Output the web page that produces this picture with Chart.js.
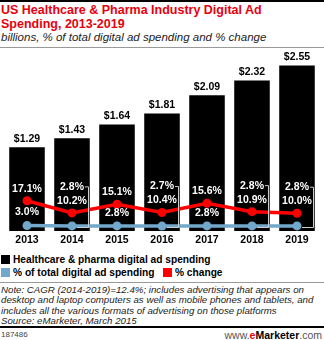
<!DOCTYPE html>
<html>
<head>
<meta charset="utf-8">
<script src="https://cdn.jsdelivr.net/npm/chart.js@4.4.1/dist/chart.umd.min.js"></script>
<style>
  body { margin: 0; width: 324px; height: 340px; background: #fff; overflow: hidden; position: relative; font-family: "Liberation Sans", Arial, sans-serif; }
  .abs { position: absolute; }
  #topRule { top: 0; left: 0; width: 324px; height: 2px; background: #000; }
  #title { top: 4px; left: 1px; font-weight: bold; font-size: 12.5px; line-height: 13.5px; color: #e8000d; }
  #subtitle { top: 31px; left: 1px; font-style: italic; font-size: 11.5px; line-height: 13px; color: #222; }
  #rule1 { top: 47px; left: 0; width: 324px; height: 1px; background: #999; }
  #chartBox { top: 50px; left: 0; width: 324px; height: 200px; }
  #legend { top: 253px; left: 1px; font-weight: bold; font-size: 10.2px; line-height: 13px; color: #000; }
  #legend .sw { display: inline-block; width: 9px; height: 9px; margin-right: 3px; vertical-align: -1px; }
  #rule2 { top: 282px; left: 0; width: 324px; height: 1px; background: #999; }
  #note { top: 285px; left: 1px; font-style: italic; font-size: 9.7px; line-height: 10.3px; color: #222; }
  #rule3 { top: 326px; left: 0; width: 324px; height: 2px; background: #000; }
  #chartId { top: 330px; left: 1px; font-size: 8px; color: #444; }
  #site { top: 329px; right: 2px; font-size: 10.5px; color: #555; }
</style>
</head>
<body>
<div id="topRule" class="abs"></div>
<div id="title" class="abs">US Healthcare &amp; Pharma Industry Digital Ad<br>Spending, 2013-2019</div>
<div id="subtitle" class="abs">billions, % of total digital ad spending and % change</div>
<div id="rule1" class="abs"></div>
<div id="chartBox" class="abs"><canvas id="adChart"></canvas></div>
<div id="legend" class="abs">
  <div><span class="sw" style="background:#000"></span>Healthcare &amp; pharma digital ad spending</div>
  <div><span class="sw" style="background:#71a8cc"></span>% of total digital ad spending&nbsp;&nbsp;&nbsp;<span class="sw" style="background:#f00"></span>% change</div>
</div>
<div id="rule2" class="abs"></div>
<div id="note" class="abs">Note: CAGR (2014-2019)=12.4%; includes advertising that appears on<br>desktop and laptop computers as well as mobile phones and tablets, and<br>includes all the various formats of advertising on those platforms<br>Source: eMarketer, March 2015</div>
<div id="rule3" class="abs"></div>
<div id="chartId" class="abs">187486</div>
<div id="site" class="abs">www.<b style="color:#e8000d">e</b><b style="color:#000">Marketer</b>.com</div>

<script>
// Chart data
const years = ['2013', '2014', '2015', '2016', '2017', '2018', '2019'];
const spending = [1.29, 1.43, 1.64, 1.81, 2.09, 2.32, 2.55];
const shareOfTotal = [3.0, 2.8, 2.8, 2.7, 2.8, 2.8, 2.8];
const pctChange = [17.1, 10.2, 15.1, 10.4, 15.6, 10.9, 10.0];

const RED = '#f00';
const BLUE = '#71a8cc';
const labelFont = 'bold 10.5px "Liberation Sans", Arial, sans-serif';

// Value labels drawn on top of the marks
const valueLabels = {
    id: 'valueLabels',
    afterDatasetsDraw(chart) {
        const ctx = chart.ctx;
        const bars = chart.getDatasetMeta(0).data;
        const blue = chart.getDatasetMeta(1).data;
        const red = chart.getDatasetMeta(2).data;
        ctx.save();
        ctx.font = labelFont;
        ctx.textAlign = 'center';
        ctx.textBaseline = 'middle';

        bars.forEach((bar, i) => {
            ctx.fillStyle = '#000';
            ctx.fillText('$' + spending[i].toFixed(2), bar.x, bar.y - 8);
        });

        ctx.fillStyle = '#fff';
        red.forEach((pt, i) => {
            const redY = pt.y - 12;
            ctx.fillText(pctChange[i].toFixed(1) + '%', pt.x, redY);

            const bp = blue[i];
            const txt = shareOfTotal[i].toFixed(1) + '%';
            if (bp.y - pt.y > 20) {
                // room between the two lines
                ctx.fillText(txt, bp.x, bp.y - 13);
            } else {
                // stack above the red label and lead down to the point
                const ly = redY - 14;
                ctx.fillText(txt, bp.x, ly);
                const w = ctx.measureText(txt).width;
                const lx = Math.round(bp.x + w / 2 + 4) + 0.5;
                ctx.strokeStyle = '#ccc';
                ctx.lineWidth = 1;
                ctx.beginPath();
                ctx.moveTo(bp.x + w / 2 + 1, ly);
                ctx.lineTo(lx, ly);
                ctx.lineTo(lx, Math.round(bp.y) + 1.5);
                ctx.lineTo(bp.x + 5, Math.round(bp.y) + 1.5);
                ctx.stroke();
            }
        });
        ctx.restore();
    }
};

function initChart() {
    const ctx = document.getElementById('adChart').getContext('2d');
    new Chart(ctx, {
        data: {
            labels: years,
            datasets: [{
                type: 'bar',
                data: spending,
                backgroundColor: '#000',
                yAxisID: 'y',
                barPercentage: 0.79,
                categoryPercentage: 1,
                order: 3
            }, {
                type: 'line',
                data: shareOfTotal,
                borderColor: BLUE,
                backgroundColor: BLUE,
                borderWidth: 3.5,
                pointRadius: 4.5,
                pointBorderWidth: 0,
                yAxisID: 'y2',
                order: 2
            }, {
                type: 'line',
                data: pctChange,
                borderColor: RED,
                backgroundColor: RED,
                borderWidth: 3.5,
                pointRadius: 4.5,
                pointBorderWidth: 0,
                yAxisID: 'y2',
                order: 1
            }]
        },
        options: {
            responsive: true,
            maintainAspectRatio: false,
            animation: false,
            layout: { padding: { left: 2, right: 2, top: 0, bottom: 0 } },
            plugins: {
                legend: { display: false },
                tooltip: { enabled: false }
            },
            scales: {
                x: {
                    grid: { display: false, drawTicks: false },
                    border: { display: false },
                    ticks: {
                        color: '#000',
                        padding: 3,
                        font: { family: '"Liberation Sans", Arial, sans-serif', weight: 'bold', size: 10.5, lineHeight: 1.25 }
                    }
                },
                y: { display: false, min: 0, max: 2.72 },
                y2: { display: false, min: 0, max: 100 }
            }
        },
        plugins: [valueLabels]
    });
}

document.addEventListener('DOMContentLoaded', initChart);
</script>
</body>
</html>
